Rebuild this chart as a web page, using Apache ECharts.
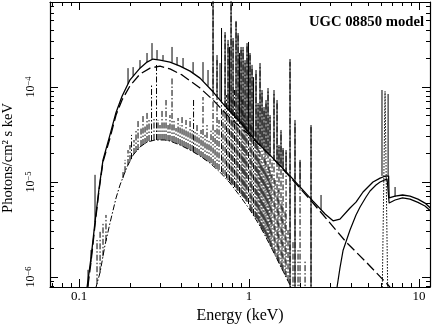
<!DOCTYPE html>
<html><head><meta charset="utf-8">
<script src="https://cdn.jsdelivr.net/npm/echarts@6/dist/echarts.min.js"></script>
<style>html,body{margin:0;padding:0;background:#fff}#c{width:436px;height:324px}</style>
</head><body><div id="c"></div>
<script>
const titleText = 'UGC 08850 model';
const xName = 'Energy (keV)';
const yName = 'Photons/cm\u00B2 s keV';
const xRange = [0.0675, 11.6];
const yRange = [7.85e-7, 7.85e-4];
const xMajorTicks = [0.1, 1, 10];
const xMinorTicks = [0.07, 0.08, 0.09, 0.2, 0.3, 0.4, 0.5, 0.6, 0.7, 0.8, 0.9, 2, 3, 4, 5, 6, 7, 8, 9];
const yMajorTicks = [1e-6, 1e-5, 1e-4];
const yMinorTicks = [8e-7, 9e-7, 2e-6, 3e-6, 4e-6, 5e-6, 6e-6, 7e-6, 8e-6, 9e-6,
  2e-5, 3e-5, 4e-5, 5e-5, 6e-5, 7e-5, 8e-5, 9e-5, 2e-4, 3e-4, 4e-4, 5e-4, 6e-4, 7e-4];

// total model (solid), smooth part [E keV, value]
const totalBase = [[0.110,6.5e-7],[0.113,9.3e-7],[0.1177,1.6e-6],[0.1242,3.8e-6],[0.1312,8.6e-6],[0.1384,1.71e-5],
  [0.1521,3.13e-5],[0.1651,5.4e-5],[0.1791,8.0e-5],[0.1995,1.19e-4],[0.2284,1.58e-4],[0.2512,1.83e-4],[0.2723,1.97e-4],
  [0.2995,1.92e-4],[0.3428,1.83e-4],[0.3929,1.66e-4],[0.450,1.47e-4],[0.515,1.24e-4],[0.614,8.9e-5],[0.723,6.3e-5],
  [0.886,4.3e-5],[1.085,2.77e-5],[1.329,1.92e-5],[1.742,1.16e-5],[2.379,6.3e-6],[2.800,4.6e-6],[3.120,3.9e-6],
  [3.427,4.07e-6],[3.926,5.33e-6],[4.259,6.14e-6],[4.684,7.85e-6],[5.359,1.0e-5],[5.901,1.10e-5],[6.30,1.15e-5],
  [6.62,1.16e-5],[6.67,6.8e-6],[7.228,7.1e-6],[8.0,7.3e-6],[8.85,7.1e-6],[9.85,6.6e-6],[10.84,6.0e-6],[11.7,5.3e-6]];

// emission lines on the total model [E, from, to]
const totalSpikes = [[0.113,7.3e-7,1.19e-6],[0.1177,1.44e-6,1.92e-6],[0.1242,3.8e-6,1.19e-5],[0.1942,1.08e-4,1.58e-4],
  [0.208,1.31e-4,1.62e-4],[0.2284,1.58e-4,1.92e-4],[0.2512,1.83e-4,2.28e-4],[0.2687,1.95e-4,2.90e-4],[0.2876,1.95e-4,2.45e-4],
  [0.3119,1.92e-4,2.17e-4],[0.3524,1.81e-4,2.64e-4],[0.3771,1.70e-4,2.07e-4],[0.4091,1.60e-4,2.02e-4],[0.4686,1.40e-4,1.83e-4],
  [0.5362,1.16e-4,1.83e-4],[0.5738,1.03e-4,1.51e-4],[0.6142,8.86e-5,9e-4],[0.6483,8.04e-5,2.17e-4],[0.675,7.3e-5,1.79e-4],
  [0.689,7.1e-5,4.18e-4],[0.7227,6.3e-5,3.79e-4],[0.7525,5.73e-5,3.13e-4],[0.768,5.6e-5,2.64e-4],[0.7839,5.32e-5,9e-4],
  [0.8054,5.0e-5,3.28e-4],[0.8387,4.6e-5,4.96e-4],[0.8619,4.5e-5,3.7e-4],[0.8795,4.28e-5,2.28e-4],[0.8976,4.08e-5,2.64e-4],
  [0.922,3.89e-5,2.64e-4],[0.9474,3.7e-5,1.92e-4],[0.9733,3.44e-5,2.90e-4],[0.993,3.36e-5,2.98e-4],[1.0136,3.2e-5,2.28e-4],
  [1.0414,3.05e-5,1.71e-4],[1.063,2.98e-5,1.27e-4],[1.0994,2.77e-5,1.51e-4],[1.1297,2.64e-5,6.79e-5],[1.1606,2.45e-5,1.79e-4],
  [1.1925,2.40e-5,9.3e-5],[1.2252,2.28e-5,6.16e-5],[1.2589,2.17e-5,7.3e-5],[1.2933,2.02e-5,9.76e-5],[1.3288,1.92e-5,5.07e-5],
  [1.4026,1.75e-5,9.3e-5],[1.4613,1.58e-5,7.3e-5],[1.5006,1.51e-5,2.45e-5],[1.542,1.44e-5,3.53e-5],[1.5849,1.37e-5,2.28e-5],
  [1.651,1.28e-5,2.17e-5],[1.7421,5e-7,1.97e-4],[1.8639,5e-7,4.5e-5],[1.9953,9.08e-6,1.71e-5],[2.3155,5e-7,3.98e-5],
  [2.652,5.07e-6,7.3e-6],[6.054,1.16e-5,9.3e-5],[6.577,1.17e-5,8.44e-5],[7.228,7.0e-6,8.86e-6]];

// absorbed power-law continuum (dashed)
const continuum = [[0.110,5.7e-7],[0.1177,1.44e-6],[0.1242,3.53e-6],[0.1312,8.24e-6],[0.1384,1.63e-5],[0.1521,2.90e-5],
  [0.1651,5.07e-5],[0.1791,7.30e-5],[0.1995,1.03e-4],[0.2284,1.37e-4],[0.2618,1.58e-4],[0.2995,1.66e-4],[0.3428,1.55e-4],
  [0.4036,1.34e-4],[0.515,9.76e-5],[0.614,7.30e-5],[0.773,4.72e-5],[0.973,3.28e-5],[1.329,1.92e-5],[1.742,1.13e-5],
  [2.379,6.01e-6],[3.721,2.34e-6],[4.878,1.44e-6],[6.577,8.24e-7],[7.228,6.7e-7]];

// thermal plasma (dash-dot), smooth part
const plasmaBase = [[0.1226,5.7e-7],[0.126,7.85e-7],[0.133,1.12e-6],[0.1422,2.17e-6],[0.1521,3.7e-6],[0.1651,6.79e-6],
  [0.1742,9.3e-6],[0.1915,1.44e-5],[0.208,1.92e-5],[0.2284,2.34e-5],[0.2512,2.63e-5],[0.2798,2.77e-5],[0.317,2.77e-5],
  [0.3428,2.70e-5],[0.3929,2.45e-5],[0.450,2.17e-5],[0.515,1.88e-5],[0.590,1.58e-5],[0.675,1.27e-5],[0.773,9.76e-6],
  [0.886,7.1e-6],[1.014,5.07e-6],[1.161,3.43e-6],[1.329,2.17e-6],[1.521,1.34e-6],[1.742,8.24e-7],[1.864,6.0e-7]];

// plasma emission lines [E, from, to]
const plasmaSpikes = [[0.1276,8.5e-7,2.45e-6],[0.133,1.12e-6,3.13e-6],[0.1384,1.65e-6,3.79e-6],[0.1441,2.4e-6,4.5e-6],
  [0.1815,1.10e-5,1.34e-5],[0.1865,1.27e-5,1.71e-5],[0.1942,1.51e-5,2.17e-5],[0.1995,1.66e-5,2.45e-5],[0.2036,1.75e-5,3.13e-5],
  [0.2106,1.97e-5,2.77e-5],[0.2164,2.07e-5,3.53e-5],[0.2224,2.17e-5,4.5e-5],[0.2316,2.39e-5,3.7e-5],[0.2379,2.45e-5,5.07e-5],
  [0.2445,2.51e-5,3.98e-5],[0.2512,2.64e-5,5.45e-5],[0.2581,2.70e-5,4.72e-5],[0.2670,2.70e-5,1.05e-4],[0.2761,2.77e-5,4.72e-5],
  [0.2857,2.77e-5,1.79e-4],[0.2915,2.77e-5,4.5e-5],[0.2995,2.77e-5,3.98e-5],[0.3078,2.77e-5,5.73e-5],[0.3162,2.77e-5,4.28e-5],
  [0.3249,2.77e-5,7.3e-5],[0.3339,2.70e-5,3.98e-5],[0.3428,2.70e-5,5.07e-5],[0.3524,2.64e-5,1.24e-4],[0.3620,2.64e-5,4.5e-5],
  [0.3720,2.57e-5,3.7e-5],[0.3824,2.51e-5,4.72e-5],[0.3929,2.45e-5,3.98e-5],[0.4036,2.39e-5,5.07e-5],[0.4146,2.34e-5,3.7e-5],
  [0.4260,2.28e-5,4.5e-5],[0.4377,2.23e-5,3.53e-5],[0.4500,2.17e-5,4.72e-5],[0.4622,2.12e-5,3.7e-5],[0.4717,2.07e-5,7.3e-5],
  [0.4813,2.02e-5,3.53e-5],[0.4944,1.97e-5,3.98e-5],[0.5080,1.92e-5,3.13e-5],[0.5219,1.83e-5,3.53e-5],[0.5362,1.79e-5,7.85e-5],
  [0.5509,1.71e-5,3.13e-5],[0.5660,1.66e-5,3.98e-5],[0.5815,1.63e-5,2.77e-5],[0.5975,1.58e-5,3.53e-5],[0.6142,1.51e-5,9e-4],
  [0.6310,1.44e-5,3.53e-5],[0.6483,1.37e-5,1.92e-4],[0.6661,1.34e-5,4.5e-5],[0.6891,1.27e-5,3.98e-4],[0.7030,1.21e-5,5.73e-5],
  [0.7227,1.16e-5,3.53e-4],[0.7375,1.10e-5,8.24e-5],[0.7525,1.05e-5,2.98e-4],[0.7679,1.02e-5,2.45e-4],[0.7839,9.76e-6,9e-4],
  [0.7943,9.53e-6,7.3e-5],[0.8054,9.3e-6,3.13e-4],[0.8216,8.86e-6,9.3e-5],[0.8387,8.65e-6,4.83e-4],[0.8502,8.24e-6,5.73e-5],
  [0.8619,8.04e-6,3.53e-4],[0.8795,7.66e-6,2.17e-4],[0.8976,7.48e-6,2.45e-4],[0.9098,7.12e-6,7.3e-5],[0.9220,6.95e-6,2.45e-4],
  [0.9346,6.79e-6,5.07e-5],[0.9474,6.62e-6,1.83e-4],[0.9602,6.31e-6,4.5e-5],[0.9733,6.16e-6,2.77e-4],[0.9932,5.87e-6,2.77e-4],
  [1.0136,5.07e-6,2.17e-4],[1.0275,4.95e-6,3.98e-5],[1.0414,4.72e-6,1.58e-4],[1.0629,4.5e-6,1.19e-4],[1.0847,4.28e-6,3.53e-5],
  [1.0994,4.18e-6,1.44e-4],[1.1144,4.08e-6,2.77e-5],[1.1297,3.88e-6,6.47e-5],[1.1451,3.79e-6,2.17e-5],[1.1606,3.44e-6,1.71e-4],
  [1.1764,3.28e-6,1.71e-5],[1.1925,3.2e-6,8.86e-5],[1.2086,3.05e-6,1.51e-5],[1.2252,2.98e-6,5.73e-5],[1.2420,2.84e-6,2.17e-5],
  [1.2589,2.70e-6,6.95e-5],[1.2761,2.57e-6,1.34e-5],[1.2933,2.51e-6,9.3e-5],[1.3110,2.34e-6,1.51e-5],[1.3288,2.17e-6,4.83e-5],
  [1.3470,2.07e-6,1.19e-5],[1.3652,1.97e-6,1.71e-5],[1.4026,1.79e-6,8.86e-5],[1.4222,1.71e-6,1.05e-5],[1.4613,1.55e-6,6.95e-5],
  [1.4812,1.47e-6,8.24e-6],[1.5006,1.40e-6,2.34e-5],[1.5420,1.27e-6,3.36e-5],[1.5634,1.21e-6,6.47e-6],[1.5849,1.16e-6,2.17e-5],
  [1.6284,1.05e-6,5.07e-6],[1.6511,1.0e-6,2.07e-5],[1.6956,9.08e-7,3.13e-6],[1.7421,8.24e-7,1.83e-4],[1.8141,5e-7,2.45e-6],
  [1.8639,5e-7,4.28e-5],[1.9419,5e-7,1.92e-6],[1.9953,5e-7,1.63e-5],[2.1357,5e-7,1.51e-6],[2.3155,5e-7,3.79e-5]];

// reflection component (solid, lower)
const reflection = [[3.2,5.7e-7],[3.295,7.85e-7],[3.427,1.25e-6],[3.572,1.9e-6],[3.926,3.13e-6],[4.259,4.5e-6],[4.498,5.46e-6],
  [4.878,6.95e-6],[5.148,8.05e-6],[5.583,9.3e-6],[5.901,1.0e-5],[6.486,1.08e-5],[6.62,1.08e-5],[6.67,6.0e-6],[7.228,6.47e-6],
  [8.0,6.8e-6],[8.85,6.6e-6],[9.85,6.1e-6],[10.84,5.6e-6],[11.7,4.95e-6]];

// Fe K line (dotted)
const feLine = [[6.06,5e-7],[6.31,9.0e-5],[6.56,5e-7]];

function spikeData(list) {
  const out = [];
  list.forEach(s => { out.push([s[0], s[1]], [s[0], s[2]], [s[0], '-']); });
  return out;
}

const FONT = 'Liberation Serif';
const ink = '#000';

function xAx(pos, minor) {
  return {
    type: 'log', logBase: 10, min: xRange[0], max: xRange[1], position: pos,
    axisLine: { show: !minor, onZero: false, lineStyle: { color: ink, width: 1.2 } },
    axisTick: { show: true, inside: true, length: minor ? 4 : 8, customValues: minor ? xMinorTicks : xMajorTicks,
      lineStyle: { color: ink, width: 1 } },
    axisLabel: (pos === 'bottom' && !minor) ? {
      show: true, customValues: xMajorTicks, margin: 3, color: ink, fontFamily: FONT, fontSize: 13,
      formatter: v => String(v)
    } : { show: false },
    splitLine: { show: false }, minorTick: { show: false },
    name: (pos === 'bottom' && !minor) ? xName : '',
    nameLocation: 'middle', nameGap: 20,
    nameTextStyle: { color: ink, fontFamily: FONT, fontSize: 16 }
  };
}
function yAx(pos, minor) {
  return {
    type: 'log', logBase: 10, min: yRange[0], max: yRange[1], position: pos,
    axisLine: { show: !minor, onZero: false, lineStyle: { color: ink, width: 1.2 } },
    axisTick: { show: true, inside: true, length: minor ? 4 : 8, customValues: minor ? yMinorTicks : yMajorTicks,
      lineStyle: { color: ink, width: 1 } },
    axisLabel: (pos === 'left' && !minor) ? {
      show: true, customValues: yMajorTicks, rotate: 90, margin: 12, color: ink,
      formatter: v => '{a|10}{b|\u2212' + Math.abs(Math.round(Math.log10(v))) + '}',
      rich: {
        a: { fontFamily: FONT, fontSize: 12, color: ink, lineHeight: 14 },
        b: { fontFamily: FONT, fontSize: 8.5, color: ink, verticalAlign: 'top', lineHeight: 10 }
      }
    } : { show: false },
    splitLine: { show: false }, minorTick: { show: false },
    name: (pos === 'left' && !minor) ? yName : '',
    nameLocation: 'middle', nameGap: 32,
    nameTextStyle: { color: ink, fontFamily: FONT, fontSize: 14.5, padding: [0, 27, 0, 0] }
  };
}

const base = { type: 'line', showSymbol: false, symbol: 'none', silent: true, animation: false,
  xAxisIndex: 0, yAxisIndex: 0, clip: true, connectNulls: false };

const chart = echarts.init(document.getElementById('c'), null, { renderer: 'canvas' });
chart.setOption({
  backgroundColor: '#fff',
  animation: false,
  title: { text: titleText, right: 12, top: 15, padding: 0,
    textStyle: { fontFamily: FONT, fontWeight: 'bold', fontSize: 14.7, color: ink } },
  grid: { left: 50, right: 6, top: 2, bottom: 37, containLabel: false, outerBoundsMode: 'none' },
  xAxis: [xAx('bottom', false), xAx('bottom', true), xAx('top', false), xAx('top', true)],
  yAxis: [yAx('left', false), yAx('left', true), yAx('right', false), yAx('right', true)],
  series: [
    Object.assign({}, base, { name: 'plasma', data: plasmaBase, lineStyle: { color: '#000', width: 1, type: [6, 2, 1.5, 2] } }),
    Object.assign({}, base, { name: 'plasma lines', data: spikeData(plasmaSpikes), lineStyle: { color: '#000', width: 1, type: [6, 2, 1.5, 2] } }),
    Object.assign({}, base, { name: 'continuum', data: continuum, lineStyle: { color: ink, width: 1.3, type: [10, 4] } }),
    Object.assign({}, base, { name: 'reflection', data: reflection, lineStyle: { color: ink, width: 1.2 } }),
    Object.assign({}, base, { name: 'Fe line', data: feLine, lineStyle: { color: ink, width: 1, type: [1.5, 1.5] } }),
    Object.assign({}, base, { name: 'total', data: totalBase, lineStyle: { color: ink, width: 1.3 } }),
    Object.assign({}, base, { name: 'total lines', data: spikeData(totalSpikes), lineStyle: { color: '#000', width: 1 } })
  ]
});
</script></body></html>
